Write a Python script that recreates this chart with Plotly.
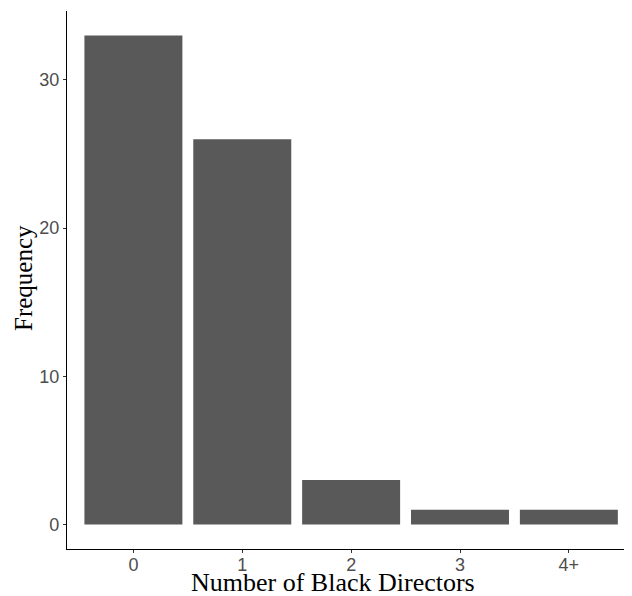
import plotly.graph_objects as go

categories = ["0", "1", "2", "3", "4+"]
frequency = [33, 26, 3, 1, 1]
y_ticks = [0, 10, 20, 30]

# page has an 8px body margin, so the figure is sized to fit inside the window
OFF = 8
W, H = 632 - OFF, 596 - OFF
ML, MR, MT = 67 - OFF, 0, 11 - OFF
MB = H - (549 - OFF)
PW, PH = W - ML - MR, H - MT - MB


def px_x(x):
    return (x - OFF - ML) / PW


def px_y(y):
    return (H - MB - (y - OFF)) / PH


fig = go.Figure(go.Bar(
    x=categories, y=frequency, width=0.9,
    marker=dict(color="#595959", line=dict(width=0)),
))

serif = "Liberation Serif, Times New Roman, serif"
sans = "Liberation Sans, Arial, sans-serif"

fig.update_layout(
    width=W, height=H,
    margin=dict(l=ML, r=MR, t=MT, b=MB, autoexpand=False),
    plot_bgcolor="white", paper_bgcolor="white",
    showlegend=False,
    annotations=[
        dict(text="Number of Black Directors", xref="paper", yref="paper",
             x=px_x(332.5), y=px_y(582), xanchor="center", yanchor="middle",
             showarrow=False, font=dict(family=serif, size=26, color="black")),
        dict(text="Frequency", xref="paper", yref="paper",
             x=px_x(23), y=px_y(278), xanchor="center", yanchor="middle",
             textangle=-90,
             showarrow=False, font=dict(family=serif, size=25, color="black")),
    ],
)
fig.update_xaxes(
    type="category", range=[-0.61, 4.58], automargin=False,
    showline=True, linecolor="black", linewidth=1.2,
    ticks="outside", ticklen=3, tickcolor="#333333", tickwidth=1,
    ticklabelstandoff=-4,
    tickfont=dict(family=sans, size=18, color="#4d4d4d"),
    showgrid=False, zeroline=False,
)
fig.update_yaxes(
    range=[-1.65, 34.65], tickvals=y_ticks, automargin=False,
    showline=True, linecolor="black", linewidth=1.2,
    ticks="outside", ticklen=3, tickcolor="#333333", tickwidth=1,
    tickfont=dict(family=sans, size=18, color="#4d4d4d"),
    showgrid=False, zeroline=False,
)

fig.write_html("out.html")
